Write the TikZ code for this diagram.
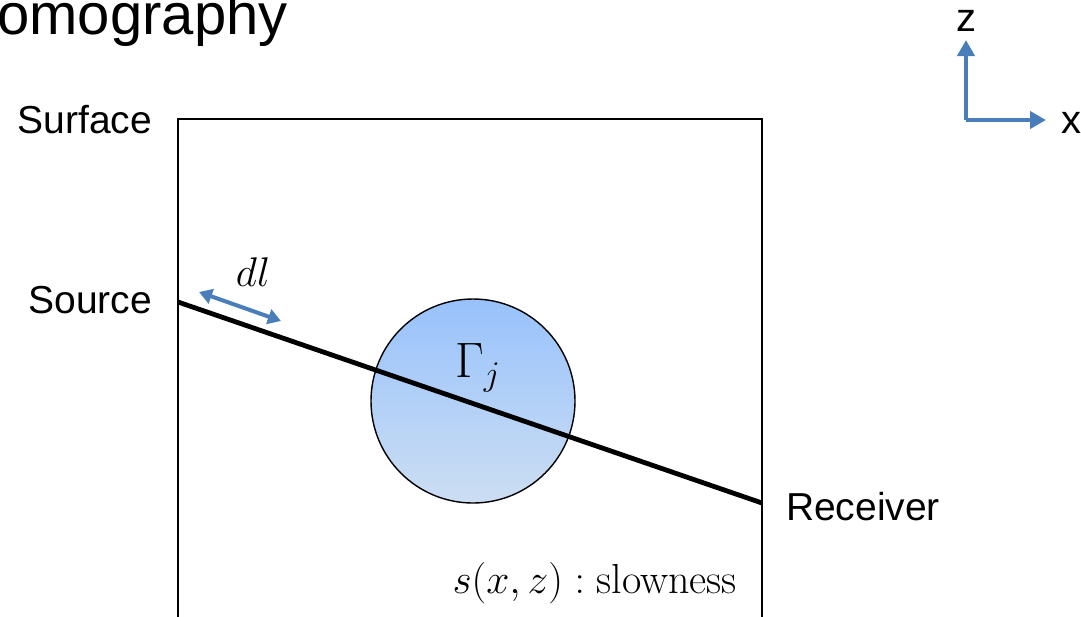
\documentclass[tikz,border=0pt]{standalone}
\usepackage{amsmath, amssymb}
\usepackage{fontspec}
\usepackage{tikz}
\usetikzlibrary{positioning, arrows.meta}
\newfontfamily\helv{Liberation Sans}
\definecolor{axisblue}{RGB}{74,126,187}
\definecolor{blobtop}{RGB}{152,194,252}
\definecolor{blobbot}{RGB}{204,222,242}

\begin{document}
\begin{tikzpicture}[x=0.5pt, y=-0.5pt,
  label/.style={font=\helv\fontsize{19.5}{22}\selectfont},
  bluearrow/.style={draw=axisblue, line width=2pt, {Triangle[length=6.5pt,width=7.5pt]}-{Triangle[length=6.5pt,width=7.5pt]}},
  axisarrow/.style={draw=axisblue, line width=2.2pt, -{Triangle[length=8pt,width=8.5pt]}}]
\useasboundingbox (0,0) rectangle (1081,616);
\clip (0,0) rectangle (1081,616);
% title
\node[anchor=west, inner sep=0pt, font=\helv\fontsize{29}{32}\selectfont] (title) at (-3,20) {omography};
% medium
\draw[line width=0.8pt] (178,640) |- (762,119) -- (762,640);
\node[label, anchor=east] (surface) at (159,120) {Surface};
\node[label, anchor=east] (source) at (159,300) {Source};
\node[label, anchor=west] (receiver) at (779,507) {Receiver};
% anomaly
\node[circle, draw, line width=0.7pt, minimum size=102pt, top color=blobtop, bottom color=blobbot] (blob) at (473,401) {};
\node[font=\fontsize{24}{26}\selectfont] (gamma) at (478,368) {$\Gamma_j$};
% ray path
\coordinate (src) at (178,302);
\coordinate (rcv) at (762,503);
\draw[line width=2.4pt] (src) -- (rcv);
\coordinate (dlA) at (199,292);
\coordinate (dlB) at (281,321);
\draw[bluearrow] (dlA) -- (dlB);
\node[font=\fontsize{21}{23}\selectfont] (dl) at (253,272) {$dl$};
\node[font=\fontsize{21}{23}\selectfont, anchor=east] (slow) at (744,583) {$s(x,z):\text{slowness}$};
% axes
\coordinate (orig) at (966,120);
\coordinate (ztip) at (966,40);
\coordinate (xtip) at (1046,120);
\draw[axisarrow] (orig) -- (ztip);
\draw[axisarrow] (orig) -- (xtip);
\node[font=\helv\fontsize{20}{22}\selectfont] (zlab) at (966,21) {z};
\node[font=\helv\fontsize{20}{22}\selectfont] (xlab) at (1071,123) {x};
\end{tikzpicture}
\end{document}
